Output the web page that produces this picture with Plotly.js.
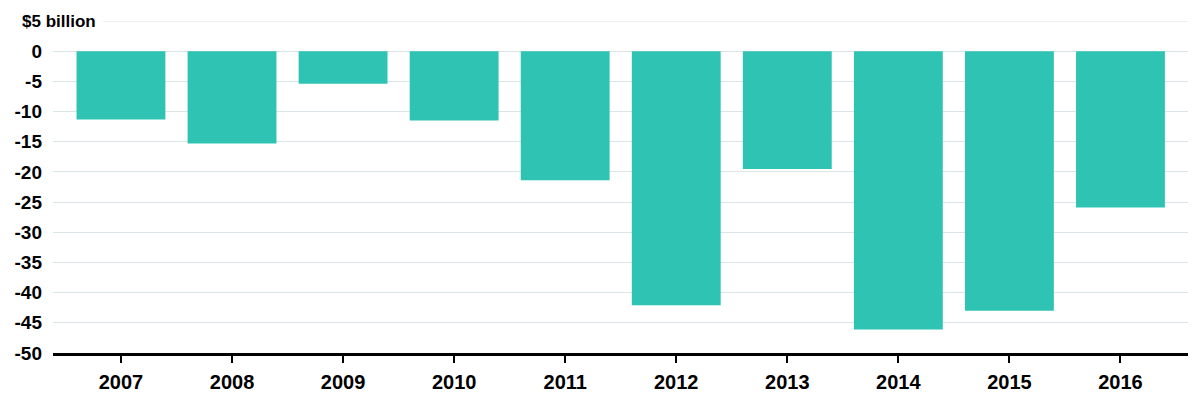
<!DOCTYPE html>
<html>
<head>
<meta charset="utf-8">
<script src="https://cdn.plot.ly/plotly-3.0.1.min.js"></script>
<style>html,body{margin:0;padding:0;background:#fff;}#chart{width:1200px;height:399px;}</style>
</head>
<body>
<div id="chart"></div>
<script>
const years = ["2007","2008","2009","2010","2011","2012","2013","2014","2015","2016"];
const values = [-11.3, -15.3, -5.4, -11.5, -21.4, -42.1, -19.5, -46.1, -43.0, -25.9];
const yTickVals = [0, -5, -10, -15, -20, -25, -30, -35, -40, -45, -50];
const yTickText = ["0", "-5", "-10", "-15", "-20", "-25", "-30", "-35", "-40", "-45", "-50"];
const unitLabel = "$5 billion";

const trace = {
  type: "bar",
  x: years,
  y: values,
  marker: {color: "#2fc3b3"},
  hoverinfo: "x+y"
};

const FONT = "Liberation Sans, Arial, sans-serif";

const layout = {
  width: 1200, height: 399,
  margin: {l: 53, r: 12, t: 21, b: 46},
  paper_bgcolor: "#fff", plot_bgcolor: "#fff",
  bargap: 0.2,
  showlegend: false,
  font: {family: FONT, color: "#000"},
  xaxis: {
    type: "category",
    range: [-0.612, 9.608],
    showgrid: false,
    showline: true, linecolor: "#000", linewidth: 2.5,
    ticks: "outside", ticklen: 7, tickwidth: 2, tickcolor: "#000",
    ticklabelstandoff: 2,
    tickfont: {size: 20, family: FONT, weight: "bold"},
    fixedrange: true
  },
  yaxis: {
    range: [-50, 5],
    tickvals: yTickVals,
    ticktext: yTickText,
    showgrid: true, gridcolor: "#dbe4e7", gridwidth: 1,
    zeroline: false,
    showline: false,
    ticks: "",
    ticklabelstandoff: 10,
    tickfont: {size: 19, family: FONT, weight: "bold"},
    fixedrange: true
  },
  shapes: [{
    type: "line", xref: "paper", yref: "y",
    x0: 50 / 1135, x1: 1, y0: 5, y1: 5,
    line: {color: "#dbe4e7", width: 1}
  }],
  annotations: [{
    xref: "paper", yref: "y", x: -33 / 1135, y: 5,
    xanchor: "left", yanchor: "middle",
    text: unitLabel, showarrow: false,
    font: {size: 17, family: FONT, weight: "bold", color: "#000"}
  }]
};

Plotly.newPlot("chart", [trace], layout, {displayModeBar: false, staticPlot: true});
</script>
</body>
</html>
